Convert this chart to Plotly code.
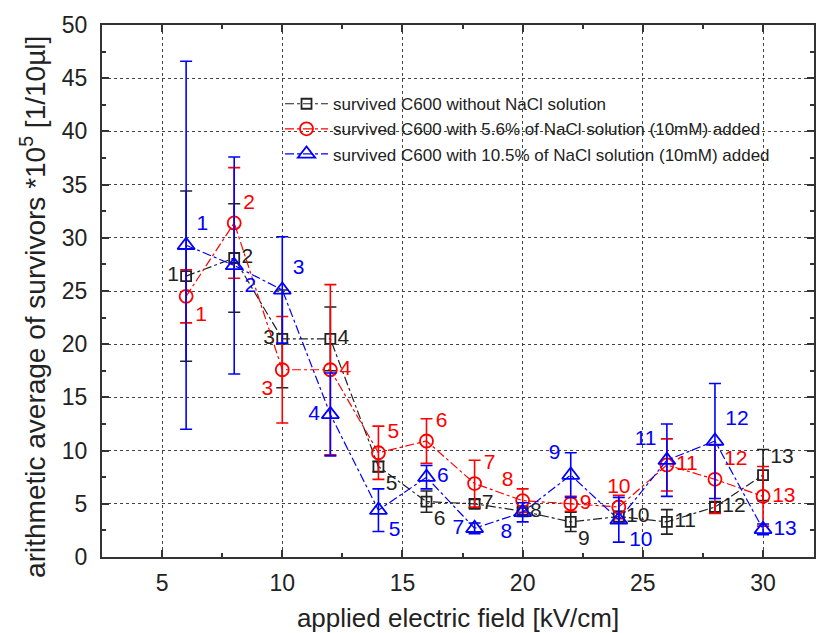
import plotly.graph_objects as go

# applied electric field [kV/cm]
field = [6, 8, 10, 12, 14, 16, 18, 20, 22, 24, 26, 28, 30]
point_ids = [str(i) for i in range(1, 14)]

# survivors without NaCl
no_nacl = [26.4, 28.1, 20.5, 20.5, 8.5, 5.2, 5.0, 4.3, 3.3, 3.8, 3.3, 4.7, 7.7]
no_nacl_err = [8.0, 5.1, 4.6, 3.0, 0.5, 1.0, 0.4, 0.3, 0.9, 0.5, 1.15, 0.5, 2.4]

# survivors with 5.6% NaCl solution
nacl_56 = [24.5, 31.4, 17.6, 17.6, 9.8, 10.9, 6.9, 5.3, 5.0, 4.7, 8.65, 7.3, 5.7]
nacl_56_err = [2.5, 5.2, 5.0, 8.0, 2.5, 2.1, 2.2, 1.1, 0.7, 1.1, 2.45, 3.2, 2.8]

# survivors with 10.5% NaCl solution
nacl_105 = [29.3, 27.4, 25.1, 13.4, 4.4, 7.5, 2.7, 4.2, 7.7, 3.5, 9.1, 10.9, 2.6]
nacl_105_err = [17.3, 10.2, 5.0, 3.9, 2.0, 1.1, 0.5, 0.9, 2.1, 2.1, 3.4, 5.4, 0.5]

series_names = [
    "survived C600 without NaCl solution",
    "survived C600 with 5.6% of NaCl solution (10mM) added",
    "survived C600 with 10.5% of NaCl solution (10mM) added",
]

x_ticks = [5, 10, 15, 20, 25, 30]
y_ticks = [0, 5, 10, 15, 20, 25, 30, 35, 40, 45, 50]

FONT = "Liberation Sans, Arial, sans-serif"

# where each point number sits relative to its marker
pos_black = ["middle left", "middle right", "middle left", "middle right", "bottom right",
             "bottom right", "middle right", "middle right", "bottom right", "middle right",
             "middle right", "middle right", "top right"]
pos_red = ["bottom right", "top right", "bottom left", "middle right", "top right",
           "top right", "top right", "top left", "middle right", "top center",
           "middle right", "top right", "middle right"]
pos_blue = ["top right", "bottom right", "top right", "middle left", "bottom right",
            "middle right", "middle left", "bottom left", "top left", "bottom right",
            "top left", "top right", "middle right"]

styles = [
    dict(y=no_nacl, err=no_nacl_err, color="#222222", symbol="square-open", size=10, pos=pos_black),
    dict(y=nacl_56, err=nacl_56_err, color="#ff0000", symbol="circle-open", size=13, pos=pos_red),
    dict(y=nacl_105, err=nacl_105_err, color="#0000ff", symbol="triangle-up-open", size=15, pos=pos_blue),
]

fig = go.Figure()
for name, s in zip(series_names, styles):
    fig.add_trace(go.Scatter(
        x=field, y=s["y"], name=name,
        mode="lines+markers+text",
        text=point_ids, textposition=s["pos"],
        textfont=dict(family=FONT, size=21, color=s["color"]),
        line=dict(color=s["color"], width=1.2, dash="dashdot"),
        marker=dict(symbol=s["symbol"], size=s["size"], color=s["color"],
                    line=dict(color=s["color"], width=1.8)),
        error_y=dict(type="data", array=s["err"], visible=True,
                     color=s["color"], thickness=1.6, width=6),
    ))

axis_common = dict(
    showline=True, linecolor="#333333", linewidth=2, mirror="ticks",
    ticks="inside", ticklen=7, tickwidth=2, tickcolor="#333333",
    showgrid=True, gridcolor="#444444", gridwidth=1, griddash="dot",
    zeroline=False,
    tickfont=dict(family=FONT, size=23, color="#222222"),
)

fig.update_xaxes(
    range=[2.5, 32.12], tickvals=x_ticks, ticklabelstandoff=4,
    minor=dict(dtick=2.5, tick0=2.5, ticks="inside", ticklen=4, tickwidth=1.5,
               tickcolor="#333333", showgrid=False),
    title=dict(text="applied electric field [kV/cm]", standoff=14,
               font=dict(family=FONT, size=26, color="#222222")),
    **axis_common,
)
fig.update_yaxes(
    range=[0, 50], tickvals=y_ticks, ticklabelstandoff=8,
    minor=dict(dtick=2.5, tick0=0, ticks="inside", ticklen=4, tickwidth=1.5,
               tickcolor="#333333", showgrid=False),
    **axis_common,
)

# vertical axis title, placed as a rotated annotation
fig.add_annotation(
    text="arithmetic average of survivors *10<sup>5</sup> [1/10\u00b5l]",
    xref="paper", yref="paper", x=-0.097, y=0.47,
    xanchor="center", yanchor="middle", textangle=-90, showarrow=False,
    font=dict(family=FONT, size=28, color="#222222"),
)

fig.update_layout(
    width=816, height=633,
    margin=dict(l=102, r=0, t=25, b=76),
    paper_bgcolor="white", plot_bgcolor="white",
    showlegend=True,
    legend=dict(x=0.25, y=0.885, xanchor="left", yanchor="top",
                bgcolor="rgba(0,0,0,0)", borderwidth=0,
                font=dict(family=FONT, size=17, color="#222222"),
                tracegroupgap=0, itemwidth=43),
)

fig.write_html("out.html")
